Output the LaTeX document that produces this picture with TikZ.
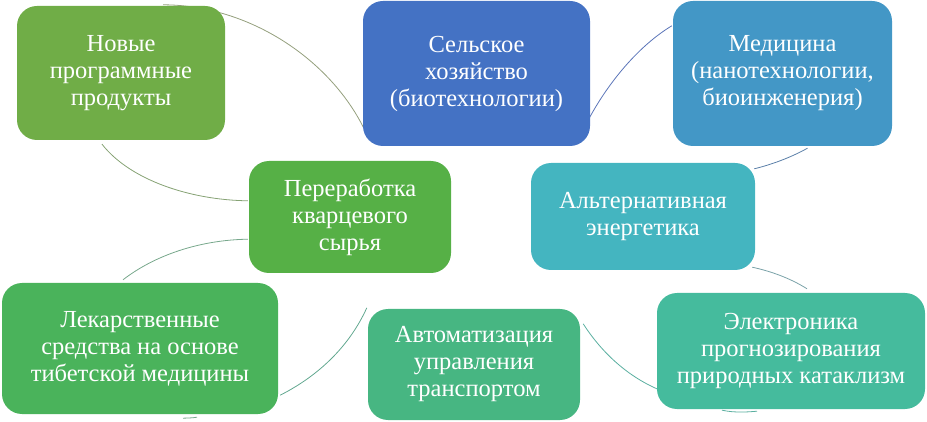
\documentclass[tikz,border=0pt]{standalone}
\usepackage{fontspec}
\setmainfont{Liberation Serif}
\usetikzlibrary{backgrounds}
\definecolor{cA}{HTML}{70AD47}
\definecolor{cB}{HTML}{4472C4}
\definecolor{cC}{HTML}{4397C6}
\definecolor{cD}{HTML}{44B5C0}
\definecolor{cE}{HTML}{45BB9D}
\definecolor{cF}{HTML}{47B682}
\definecolor{cG}{HTML}{4AB35B}
\definecolor{cH}{HTML}{56B046}
\definecolor{lA}{HTML}{95A07E}
\definecolor{lB}{HTML}{5A74B8}
\definecolor{lC}{HTML}{5A7FA8}
\definecolor{lD}{HTML}{7AA2A8}
\definecolor{lE}{HTML}{5AAFA0}
\definecolor{lF}{HTML}{62A890}
\definecolor{lG}{HTML}{78A88C}
\definecolor{lH}{HTML}{86A274}
\begin{document}
\begin{tikzpicture}[x=1pt,y=-1pt,
  box/.style={rectangle, rounded corners=20pt, inner sep=0pt, align=center,
    text=white, font=\fontsize{24.5}{27}\selectfont},
  link/.style={line width=0.8pt}]
\useasboundingbox (0,0) rectangle (927,422);
\node[box, fill=cA, minimum width=208pt, minimum height=134pt] (n1) at (121,73)
  {Новые\\программные\\продукты};
\node[box, fill=cB, minimum width=227pt, minimum height=145pt] (n2) at (476.5,73.5)
  {Сельское\\хозяйство\\(биотехнологии)};
\node[box, fill=cC, minimum width=219pt, minimum height=145pt] (n3) at (782.5,73.5)
  {Медицина\\(нанотехнологии,\\биоинженерия)};
\node[box, fill=cD, minimum width=224pt, minimum height=107pt] (n4) at (643,216.5)
  {Альтернативная\\энергетика};
\node[box, fill=cE, minimum width=268pt, minimum height=116pt] (n5) at (791,351)
  {Электроника\\прогнозирования\\природных катаклизм};
\node[box, fill=cF, minimum width=212pt, minimum height=111pt] (n6) at (474,364.5)
  {Автоматизация\\управления\\транспортом};
\node[box, fill=cG, minimum width=276pt, minimum height=131pt] (n7) at (140,348.5)
  {Лекарственные\\средства на основе\\тибетской медицины};
\node[box, fill=cH, minimum width=202pt, minimum height=112pt] (n8) at (350,217)
  {Переработка\\кварцевого\\сырья};
\begin{scope}[on background layer]
\draw[link, lA] ([xshift=42pt,yshift=1pt]n1.north) .. controls (250,5) and (330,60) .. ([xshift=1pt,yshift=18pt]n2.south west);
\draw[link, lB] ([xshift=-1pt,yshift=28pt]n2.south east) .. controls (610,80) and (640,45) .. ([xshift=-1pt,yshift=-25pt]n3.north west);
\draw[link, lC] ([xshift=25pt,yshift=-2pt]n3.south) .. controls (790,158) and (770,165) .. ([xshift=-1pt,yshift=-6pt]n4.north east);
\draw[link, lD] ([xshift=-3pt,yshift=3pt]n4.south east) .. controls (770,271) and (790,278) .. ([xshift=16pt,yshift=4pt]n5.north);
\draw[link, lE] ([xshift=3pt,yshift=-15pt]n6.north east) .. controls (600,350) and (625,375) .. ([xshift=1pt,yshift=20pt]n5.south west);
\draw[link, lF] ([xshift=-1pt,yshift=1pt]n6.north west) .. controls (350,345) and (320,375) .. ([xshift=2pt,yshift=19pt]n7.south east);
\draw[link, lG] ([xshift=-17pt,yshift=3pt]n7.north) .. controls (155,255) and (200,240) .. ([xshift=-1pt,yshift=34pt]n8.south west);
\draw[link, lH] ([xshift=-1pt,yshift=-40pt]n8.north west) .. controls (190,200) and (130,180) .. ([xshift=-19pt,yshift=-4pt]n1.south);
\draw[link, lG] ([xshift=43pt,yshift=-4pt]n7.south) .. controls (188,418) and (192,418) .. ([xshift=57pt,yshift=-3pt]n7.south);
\draw[link, lE] ([xshift=-69pt,yshift=-1pt]n5.south) .. controls (735,413) and (748,412) .. ([xshift=-34pt,yshift=-2pt]n5.south);
\end{scope}
\end{tikzpicture}
\end{document}
